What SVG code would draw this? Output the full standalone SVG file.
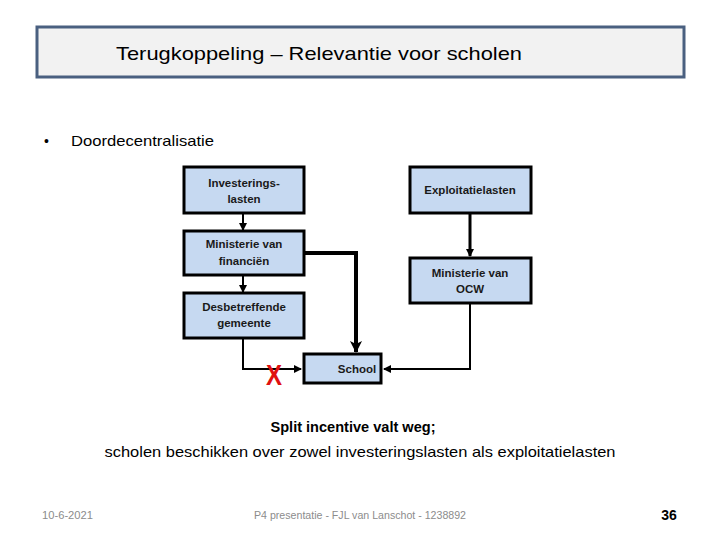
<svg xmlns="http://www.w3.org/2000/svg" width="720" height="540" viewBox="0 0 720 540">
<style>
.box{fill:#c6d9f1;stroke:#000;stroke-width:3}
.nt{font-family:"Liberation Sans",Arial,sans-serif;font-size:11.5px;font-weight:bold;fill:#1a1a1a;text-anchor:middle}
.ln{fill:none;stroke:#000;stroke-width:2}
.foot{font-family:"Liberation Sans",Arial,sans-serif;font-size:10.5px;fill:#8c8c8c}
</style>
<defs>
<marker id="ah" markerUnits="userSpaceOnUse" markerWidth="10" markerHeight="10" refX="7" refY="4" orient="auto">
<path d="M0,0 L8,4 L0,8 Z" fill="#000"/>
</marker>
<marker id="ahb" markerUnits="userSpaceOnUse" markerWidth="14" markerHeight="14" refX="11" refY="6" orient="auto">
<path d="M0,0 L12,6 L0,12 L3,6 Z" fill="#000"/>
</marker>
</defs>
<rect width="720" height="540" fill="#fff"/>
<g id="title">
<rect x="37" y="27" width="647" height="50" fill="#f2f2f2" stroke="#4a6080" stroke-width="3"/>
<text x="319" y="60" font-family="Liberation Sans,Arial,sans-serif" font-size="19" text-anchor="middle" fill="#000" textLength="406" lengthAdjust="spacingAndGlyphs">Terugkoppeling – Relevantie voor scholen</text>
</g>
<g id="bullet">
<text x="44" y="146" font-family="Liberation Sans,Arial,sans-serif" font-size="14" fill="#000">•</text>
<text x="71" y="146" font-family="Liberation Sans,Arial,sans-serif" font-size="15" fill="#000" textLength="143" lengthAdjust="spacingAndGlyphs">Doordecentralisatie</text>
</g>
<g id="connectors">
<line class="ln" x1="243" y1="214" x2="243" y2="230" marker-end="url(#ah)"/>
<line class="ln" x1="243" y1="276" x2="243" y2="292" marker-end="url(#ah)"/>
<polyline class="ln" points="243,339 243,369 301,369" marker-end="url(#ah)"/>
<polyline class="ln" style="stroke-width:4" points="304,253 356,253 356,352" marker-end="url(#ahb)"/>
<line class="ln" style="stroke-width:3" x1="470" y1="214" x2="470" y2="256" marker-end="url(#ah)"/>
<polyline class="ln" points="470,304 470,369 384,369" marker-end="url(#ah)"/>
</g>
<g id="n-investeringslasten">
<rect class="box" x="184" y="167" width="120" height="46"/>
<text class="nt" x="244" y="187">Investerings-</text>
<text class="nt" x="244" y="203">lasten</text>
</g>
<g id="n-exploitatielasten">
<rect class="box" x="410" y="167" width="121" height="46"/>
<text class="nt" x="470" y="194">Exploitatielasten</text>
</g>
<g id="n-minfin">
<rect class="box" x="184" y="231" width="120" height="44"/>
<text class="nt" x="244" y="248">Ministerie van</text>
<text class="nt" x="244" y="265">financiën</text>
</g>
<g id="n-ocw">
<rect class="box" x="410" y="258" width="121" height="45"/>
<text class="nt" x="470" y="277">Ministerie van</text>
<text class="nt" x="470" y="293">OCW</text>
</g>
<g id="n-gemeente">
<rect class="box" x="184" y="293" width="120" height="45"/>
<text class="nt" x="244" y="311">Desbetreffende</text>
<text class="nt" x="244" y="327">gemeente</text>
</g>
<g id="n-school">
<rect class="box" x="304" y="354" width="77" height="29"/>
<text class="nt" x="357" y="373">School</text>
</g>
<text x="274" y="385" font-family="Liberation Sans,Arial,sans-serif" font-size="30" font-weight="bold" fill="#e01010" text-anchor="middle" textLength="16" lengthAdjust="spacingAndGlyphs">X</text>
<g id="conclusion">
<text x="353" y="432" font-family="Liberation Sans,Arial,sans-serif" font-size="14.5" font-weight="bold" text-anchor="middle" fill="#000" textLength="165" lengthAdjust="spacingAndGlyphs">Split incentive valt weg;</text>
<text x="360" y="457" font-family="Liberation Sans,Arial,sans-serif" font-size="14.5" text-anchor="middle" fill="#000" textLength="511" lengthAdjust="spacingAndGlyphs">scholen beschikken over zowel investeringslasten als exploitatielasten</text>
</g>
<g id="footer">
<text class="foot" x="42" y="519" textLength="51" lengthAdjust="spacingAndGlyphs">10-6-2021</text>
<text class="foot" x="360" y="519" text-anchor="middle" textLength="212" lengthAdjust="spacingAndGlyphs">P4 presentatie - FJL van Lanschot - 1238892</text>
<text x="669" y="520" font-family="Liberation Sans,Arial,sans-serif" font-size="14" font-weight="bold" fill="#000" text-anchor="middle">36</text>
</g>
</svg>
